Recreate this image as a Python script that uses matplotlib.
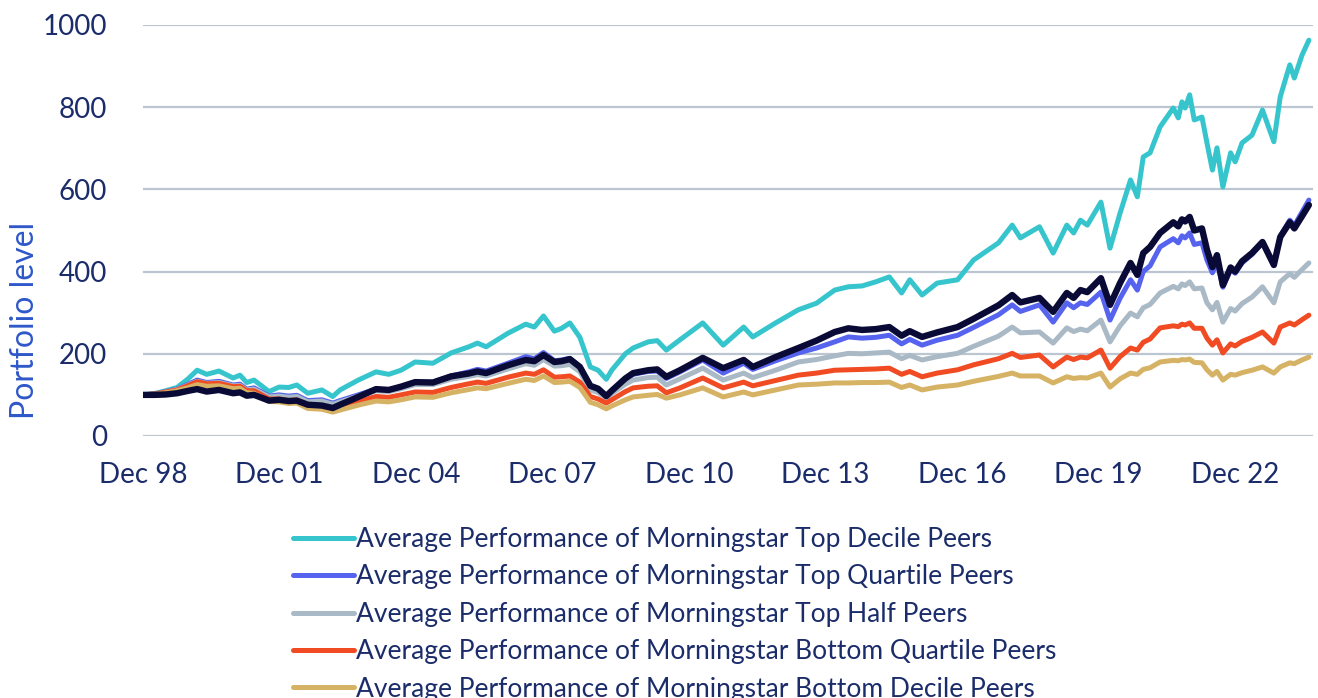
import matplotlib
matplotlib.use("Agg")
import matplotlib.pyplot as plt

plt.rcParams['font.family'] = ['Lato', 'DejaVu Sans']

# years since Dec 1998
t = [0.00, 0.25, 0.50, 0.75, 1.00, 1.19, 1.40, 1.67, 1.98, 2.13, 2.28, 2.44, 2.77, 2.99,
     3.20, 3.38, 3.62, 3.93, 4.17, 4.33, 4.73, 5.12, 5.40, 5.67, 5.98, 6.37, 6.77, 7.16,
     7.35, 7.54, 8.02, 8.41, 8.60, 8.80, 9.04, 9.20, 9.38, 9.60, 9.83, 10.00, 10.18, 10.30,
     10.60, 10.77, 11.10, 11.30, 11.50, 11.80, 12.30, 12.75, 13.20, 13.40, 13.90, 14.40,
     14.80, 15.20, 15.50, 15.80, 16.10, 16.40, 16.67, 16.85, 17.12, 17.45, 17.90, 18.25,
     18.80, 19.10, 19.28, 19.70, 20.00, 20.30, 20.45, 20.60, 20.75, 21.05, 21.25, 21.47,
     21.70, 21.85, 21.98, 22.13, 22.35, 22.64, 22.75, 22.83, 22.90, 23.00, 23.10, 23.27,
     23.38, 23.50, 23.60, 23.73, 23.90, 24.00, 24.15, 24.37, 24.60, 24.85, 24.99, 25.20,
     25.30, 25.47, 25.62]

top_decile = [100, 103, 110, 118, 140, 160, 150, 158, 141, 148, 130, 136, 108, 119,
              118, 124, 104, 112, 96, 112, 136, 156, 150, 160, 180, 177, 202, 217,
              226, 217, 250, 272, 265, 292, 255, 262, 275, 240, 168, 160, 138, 160,
              200, 214, 229, 232, 209, 234, 275, 221, 265, 241, 275, 307,
              323, 355, 363, 365, 375, 387, 348, 380, 343, 372, 380, 428,
              470, 513, 482, 509, 445, 513, 494, 525, 513, 569, 457, 542,
              623, 582, 679, 689, 752, 798, 774, 813, 798, 830, 769, 776,
              713, 647, 701, 606, 689, 667, 713, 732, 793, 716, 825, 903,
              871, 927, 963]

top_quartile = [100, 102, 108, 114, 126, 136, 130, 133, 124, 126, 114, 117, 97, 100,
                97, 99, 86, 88, 80, 86, 100, 114, 112, 120, 131, 131, 146, 156,
                162, 158, 177, 193, 188, 203, 183, 185, 189, 168, 122, 115, 97, 110,
                138, 150, 157, 158, 140, 156, 185, 153, 177, 162, 183, 202,
                214, 229, 241, 238, 240, 245, 224, 235, 221, 233, 245, 264,
                295, 319, 303, 319, 277, 324, 312, 324, 320, 350, 282, 335,
                380, 355, 400, 414, 460, 480, 470, 487, 482, 494, 466, 470,
                428, 397, 425, 362, 405, 396, 421, 442, 470, 418, 486, 525,
                512, 545, 574]

top_half = [100, 102, 107, 113, 124, 133, 128, 130, 122, 123, 112, 114, 95, 97,
            94, 96, 83, 85, 77, 83, 97, 110, 108, 115, 125, 125, 138, 145,
            149, 146, 163, 176, 172, 186, 170, 171, 174, 156, 112, 106, 92, 103,
            126, 136, 142, 143, 124, 139, 165, 136, 153, 142, 160, 180,
            186, 195, 201, 200, 202, 204, 188, 196, 185, 193, 201, 218,
            243, 265, 251, 253, 226, 263, 254, 260, 256, 282, 229, 268,
            299, 290, 312, 320, 348, 364, 358, 370, 366, 375, 358, 360,
            324, 307, 325, 277, 310, 304, 322, 338, 363, 324, 375, 395,
            386, 405, 421]

bottom_quartile = [100, 102, 107, 112, 123, 132, 127, 128, 120, 121, 110, 110, 90, 90,
                   86, 88, 75, 74, 66, 72, 84, 96, 94, 100, 107, 106, 118, 127,
                   131, 128, 143, 153, 150, 161, 143, 144, 146, 131, 96, 90, 80, 88,
                   108, 117, 121, 122, 105, 117, 141, 117, 131, 122, 135, 148,
                   153, 160, 161, 162, 163, 165, 150, 157, 144, 153, 161, 173,
                   188, 201, 191, 197, 168, 192, 186, 192, 190, 209, 165, 193,
                   214, 209, 228, 236, 263, 268, 266, 272, 270, 275, 262, 262,
                   238, 221, 234, 202, 224, 219, 230, 240, 253, 226, 265, 275,
                   270, 283, 294]

bottom_decile = [100, 101, 105, 110, 118, 125, 121, 122, 115, 116, 105, 104, 84, 83,
                 79, 80, 67, 65, 58, 63, 75, 85, 83, 88, 95, 94, 105, 113,
                 117, 115, 128, 138, 135, 146, 130, 131, 133, 118, 82, 76, 66, 73,
                 88, 95, 99, 101, 92, 100, 117, 95, 107, 100, 112, 124,
                 126, 129, 129, 130, 130, 131, 118, 124, 112, 119, 124, 133,
                 145, 153, 146, 146, 129, 144, 140, 142, 141, 153, 119, 139,
                 153, 150, 162, 166, 180, 184, 183, 186, 185, 187, 179, 178,
                 161, 148, 157, 136, 150, 148, 154, 160, 168, 153, 168, 178,
                 176, 185, 192]

fund = [100, 100, 101, 104, 110, 114, 108, 112, 104, 106, 98, 100, 86, 88,
        85, 86, 76, 74, 68, 76, 95, 114, 112, 120, 131, 130, 145, 152,
        157, 153, 172, 185, 182, 197, 180, 182, 187, 168, 122, 115, 97, 110,
        140, 153, 160, 162, 144, 160, 190, 165, 185, 168, 192, 214,
        232, 253, 262, 258, 260, 265, 244, 255, 241, 252, 265, 285,
        318, 343, 325, 336, 302, 348, 336, 355, 350, 384, 319, 372,
        421, 392, 445, 460, 494, 520, 510, 527, 522, 533, 500, 505,
        453, 411, 440, 367, 410, 400, 425, 445, 472, 416, 484, 520,
        505, 535, 562]

labels = ['Average Performance of Morningstar Top Decile Peers',
          'Average Performance of Morningstar Top Quartile Peers',
          'Average Performance of Morningstar Top Half Peers',
          'Average Performance of Morningstar Bottom Quartile Peers',
          'Average Performance of Morningstar Bottom Decile Peers']
colors = ['#36C5CD', '#5663EE', '#AAB9C6', '#F04B23', '#D6B264']
tick_pos = [0, 3, 6, 9, 12, 15, 18, 21, 24]
tick_labels = ['Dec 98', 'Dec 01', 'Dec 04', 'Dec 07', 'Dec 10',
               'Dec 13', 'Dec 16', 'Dec 19', 'Dec 22']

text_col = '#1B2C6A'

fig = plt.figure(figsize=(13.18, 6.98), dpi=100)
ax = fig.add_axes([0.1085, 0.3754, 0.8877, 0.5888])

series = [top_decile, top_quartile, top_half, bottom_quartile, bottom_decile]
handles = []
for vals, c in zip(series, colors):
    h, = ax.plot(t, vals, color=c, lw=3.6, solid_joinstyle='round',
                 solid_capstyle='round')
    handles.append(h)
ax.plot(t, fund, color='#0A0A36', lw=4.6, solid_joinstyle='round',
        solid_capstyle='round')

ax.set_xlim(0, 25.71)
ax.set_ylim(0, 1000)
ax.set_yticks([0, 200, 400, 600, 800, 1000])
ax.set_xticks(tick_pos)
ax.set_xticklabels(tick_labels)
ax.yaxis.grid(True, color='#BCC6D0', lw=1.6)
ax.set_axisbelow(True)
for s in ax.spines.values():
    s.set_visible(False)
ax.tick_params(axis='both', length=0, labelsize=20, labelcolor=text_col)
ax.tick_params(axis='y', pad=26)
ax.tick_params(axis='x', pad=19)

fig.text(25 / 1318, 1 - 320 / 698, 'Portfolio level', rotation=90,
         ha='center', va='center', fontsize=23, color='#2E57C9')

fig.legend(handles, labels, loc='upper left', bbox_to_anchor=(0.2223, 0.245),
           frameon=False, fontsize=19, handlelength=2.3, handletextpad=0.1,
           borderpad=0, borderaxespad=0, labelspacing=0.47, labelcolor=text_col)

fig.savefig('out.png', dpi=100)
